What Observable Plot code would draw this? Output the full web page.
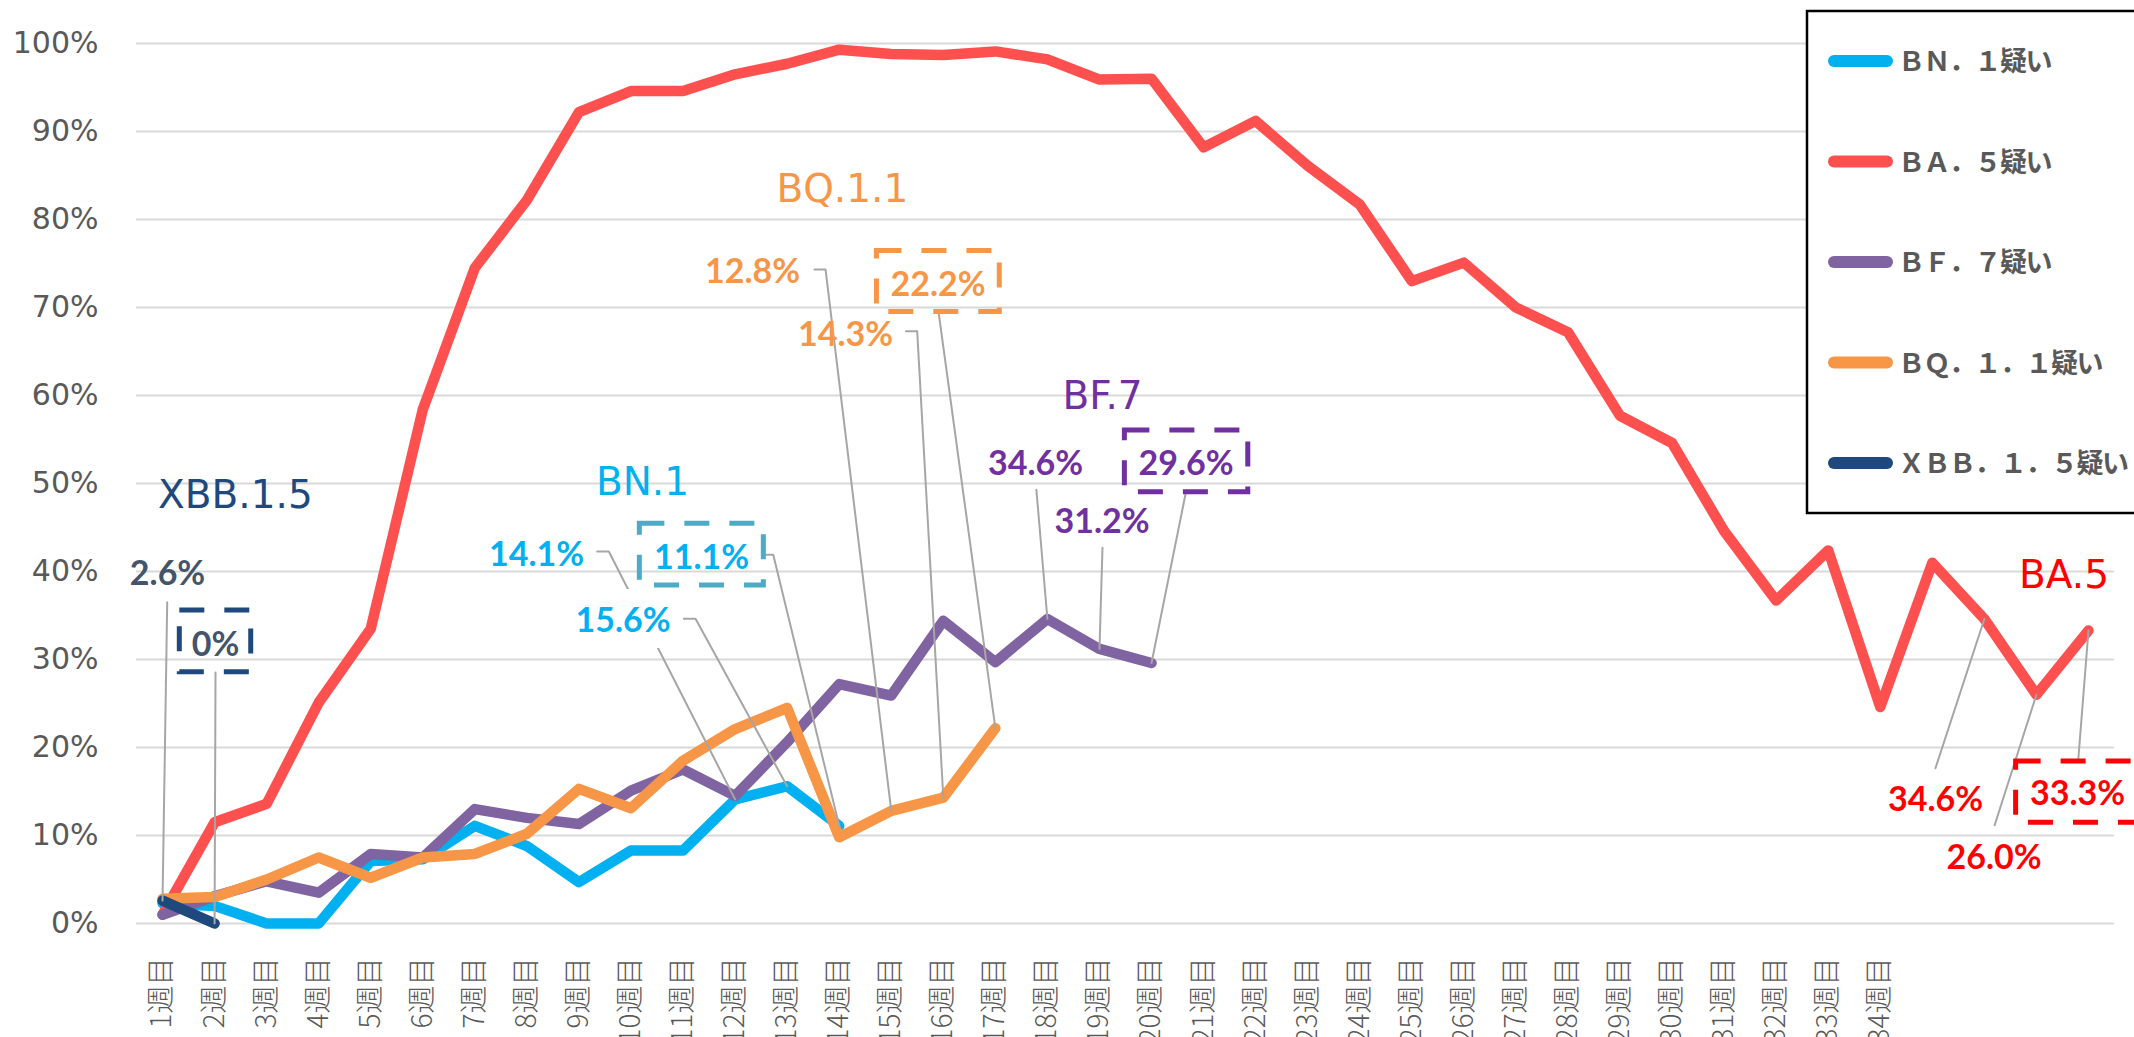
<!DOCTYPE html>
<html>
<head>
<meta charset="utf-8">
<script src="https://cdn.jsdelivr.net/npm/d3@7"></script>
<script src="https://cdn.jsdelivr.net/npm/@observablehq/plot@0.6"></script>
<style>
html, body { margin: 0; padding: 0; background: #fff; overflow: hidden; width: 2134px; height: 1037px; }
#chart svg { display: block; }
</style>
</head>
<body>
<div id="chart"></div>
<script>
// ---- data ----
const seriesNames = ["BN.1", "BA.5", "BF.7", "BQ.1.1", "XBB.1.5"];
const legendLabels = ["ＢＮ．１疑い", "ＢＡ．５疑い", "ＢＦ．７疑い", "ＢＱ．１．１疑い", "ＸＢＢ．１．５疑い"];
const seriesColors = ["#00B0F0", "#FF5050", "#8064A2", "#F79646", "#1F497D"];

const bn1 = [2.3, 2.0, 0, 0, 7.1, 7.3, 11.1, 8.8, 4.7, 8.3, 8.3, 14.1, 15.6, 11.1];
const ba5 = [1.0, 11.5, 13.6, 25.1, 33.5, 58.4, 74.5, 82.2, 92.2, 94.6, 94.6, 96.5, 97.7, 99.3, 98.8, 98.7, 99.1, 98.2, 95.9, 96.0,
             88.2, 91.2, 86.1, 81.7, 73.0, 75.1, 70.0, 67.2, 57.7, 54.6, 44.6, 36.7, 42.4, 24.6, 41.0, 34.6, 26.0, 33.3];
const bf7 = [1.0, 3.1, 4.8, 3.5, 7.9, 7.5, 13.0, 12.0, 11.3, 15.1, 17.5, 14.5, 20.6, 27.2, 25.9, 34.4, 29.7, 34.6, 31.2, 29.6];
const bq11 = [2.8, 3.0, 5.0, 7.5, 5.2, 7.5, 7.9, 10.2, 15.3, 13.1, 18.5, 22.1, 24.5, 9.8, 12.8, 14.3, 22.2];
const xbb15 = [2.6, 0];

const weekLabels = ["1週目", "2週目", "3週目", "4週目", "5週目", "6週目", "7週目", "8週目", "9週目", "10週目",
  "11週目", "12週目", "13週目", "14週目", "15週目", "16週目", "17週目", "18週目", "19週目", "20週目",
  "21週目", "22週目", "23週目", "24週目", "25週目", "26週目", "27週目", "28週目", "29週目", "30週目",
  "31週目", "32週目", "33週目", "34週目"];
const weekCount = 38;
const yTicks = [0, 10, 20, 30, 40, 50, 60, 70, 80, 90, 100];

const seriesValues = {"BN.1": bn1, "BA.5": ba5, "BF.7": bf7, "BQ.1.1": bq11, "XBB.1.5": xbb15};

// ---- annotations (positions in data units) ----
const seriesTitles = [
  {text: "XBB.1.5", color: "#1F497D", at: [2.40, 47.16]},
  {text: "BN.1", color: "#00B0F0", at: [10.22, 48.64]},
  {text: "BQ.1.1", color: "#F79646", at: [14.06, 81.97]},
  {text: "BF.7", color: "#7030A0", at: [19.06, 58.52]},
  {text: "BA.5", color: "#FF0000", at: [37.53, 38.18]}
];

const callouts = [
  {series: "XBB.1.5", week: 1, color: "#44546A", at: [1.096, 38.41], leader: [[1.090, 36.51]]},
  {series: "XBB.1.5", week: 2, color: "#44546A", at: [2.018, 30.45], leader: [[2.018, 28.52]], box: [1.332, 2.704, 28.56, 35.57], boxColor: "#1F497D"},
  {series: "BN.1", week: 12, color: "#00B0F0", at: [8.186, 40.68], leader: [[9.351, 42.27], [9.574, 42.27]]},
  {series: "BN.1", week: 13, color: "#00B0F0", at: [9.847, 33.07], leader: [[11.015, 34.63], [11.240, 34.63]], mask: [8.80, 10.91, 31.25, 37.95]},
  {series: "BN.1", week: 14, color: "#00B0F0", at: [11.355, 40.34], leader: [[12.552, 41.90], [12.733, 41.90]], box: [10.170, 12.552, 38.41, 45.42], boxColor: "#4BACC6"},
  {series: "BQ.1.1", week: 15, color: "#F79646", at: [12.335, 72.73], leader: [[13.526, 74.32], [13.737, 74.32]]},
  {series: "BQ.1.1", week: 16, color: "#F79646", at: [14.122, 65.63], leader: [[15.282, 67.30], [15.498, 67.30]]},
  {series: "BQ.1.1", week: 17, color: "#F79646", at: [15.899, 71.36], leader: [[15.909, 69.48]], box: [14.725, 17.085, 69.48, 76.43], boxColor: "#F79646"},
  {series: "BF.7", week: 18, color: "#7030A0", at: [17.772, 51.02], leader: [[17.788, 49.28]]},
  {series: "BF.7", week: 19, color: "#7030A0", at: [19.050, 44.32], leader: [[19.058, 42.69]]},
  {series: "BF.7", week: 20, color: "#7030A0", at: [20.664, 50.91], leader: [[20.654, 48.83]], box: [19.488, 21.859, 49.01, 56.02], boxColor: "#7030A0"},
  {series: "BA.5", week: 36, color: "#FF0000", at: [35.064, 12.73], leader: [[35.060, 17.64]]},
  {series: "BA.5", week: 37, color: "#FF0000", at: [36.185, 6.14], leader: [[36.197, 11.17]]},
  {series: "BA.5", week: 38, color: "#FF0000", at: [37.792, 13.41], leader: [[37.801, 18.41]], box: [36.610, 38.973, 11.44, 18.41], boxColor: "#FF0000"}
];

const fmtPct = v => (v === 0 ? "0%" : v.toFixed(1) + "%");
const valueOf = c => seriesValues[c.series][c.week - 1];

const leaderRows = callouts.flatMap((c, k) =>
  [...c.leader, [c.week, valueOf(c)]].map(([x, y]) => ({id: k, x, y})));

const marks = [
  Plot.gridY(yTicks, {stroke: "#D9D9D9", strokeWidth: 2, strokeOpacity: 1}),
  Plot.axisY(yTicks, {tickSize: 0, tickPadding: 38, tickFormat: d => d + "%", fontSize: 30, fontFamily: "DejaVu Sans", label: null}),
  Plot.axisX(d3.range(1, weekLabels.length + 1), {tickSize: 0, tickPadding: 34, tickRotate: -90,
    tickFormat: d => weekLabels[d - 1], fontSize: 28, fontFamily: "Noto Sans CJK JP", fontWeight: 300, label: null}),
  ...seriesNames.map((name, s) => Plot.line(seriesValues[name], {
    x: (d, i) => i + 1, y: d => d, stroke: seriesColors[s], strokeWidth: 10.5,
    strokeLinejoin: "round", strokeLinecap: "round"
  })),
  Plot.line(leaderRows, {x: "x", y: "y", z: "id", stroke: "#A6A6A6", strokeWidth: 2}),
  ...callouts.filter(c => c.mask).map(c => Plot.rect([c], {
    x1: d => d.mask[0], x2: d => d.mask[1], y1: d => d.mask[2], y2: d => d.mask[3], fill: "white"
  })),
  ...callouts.filter(c => c.box).map(c => Plot.rect([c], {
    x1: d => d.box[0], x2: d => d.box[1], y1: d => d.box[2], y2: d => d.box[3],
    fill: "none", stroke: c.boxColor, strokeWidth: 5, strokeDasharray: "25,20"
  })),
  ...callouts.map(c => Plot.text([c], {
    x: d => d.at[0], y: d => d.at[1], text: d => fmtPct(valueOf(d)),
    fill: c.color, fontSize: 34, fontWeight: 700, fontFamily: "Lato", lineAnchor: "bottom", textAnchor: "middle"
  })),
  ...seriesTitles.map(t => Plot.text([t], {
    x: d => d.at[0], y: d => d.at[1], text: d => d.text,
    fill: t.color, fontSize: 39, fontFamily: "DejaVu Sans", lineAnchor: "bottom", textAnchor: "middle"
  }))
];

const chart = Plot.plot({
  width: 2134,
  height: 1037,
  marginLeft: 136,
  marginRight: 20,
  marginTop: 43,
  marginBottom: 114,
  x: {domain: [0.5, weekCount + 0.5], axis: null},
  y: {domain: [0, 100], axis: null},
  style: {fontFamily: "DejaVu Sans", background: "white", color: "#595959"},
  marks
});

// legend (drawn into the same svg, top-right, over the plot)
const svg = d3.select(chart);
const lg = svg.append("g").attr("text-anchor", "start");
lg.append("rect").attr("x", 1807).attr("y", 11).attr("width", 400).attr("height", 502)
  .attr("fill", "white").attr("stroke", "#000").attr("stroke-width", 2.5);
seriesNames.forEach((name, i) => {
  const cy = 61 + i * 100.5;
  lg.append("line").attr("x1", 1834).attr("x2", 1887).attr("y1", cy).attr("y2", cy)
    .attr("stroke", seriesColors[i]).attr("stroke-width", 12).attr("stroke-linecap", "round");
  lg.append("text").attr("x", 1898).attr("y", cy + 10).attr("text-anchor", "start")
    .attr("font-family", "Noto Sans CJK JP").attr("font-size", 27).attr("font-weight", 700)
    .attr("letter-spacing", "-1.5px")
    .attr("fill", "#595959").text(legendLabels[i]);
});

document.getElementById("chart").appendChild(chart);
</script>
</body>
</html>
